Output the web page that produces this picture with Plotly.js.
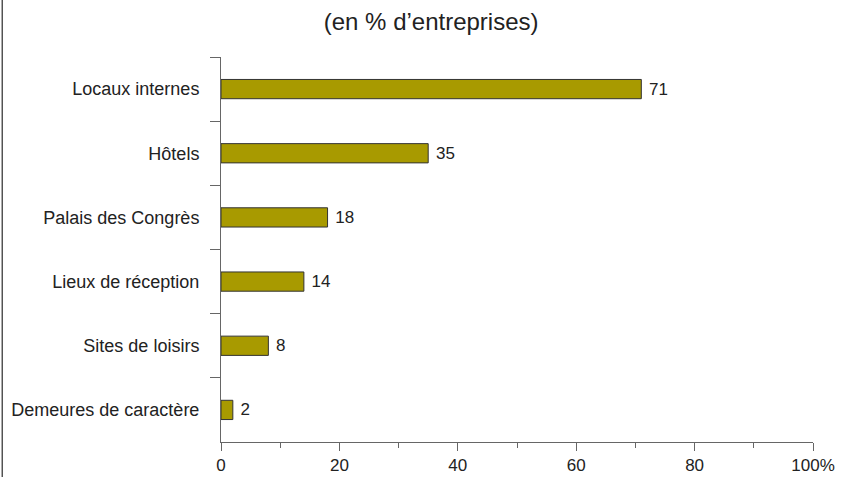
<!DOCTYPE html>
<html><head><meta charset="utf-8">
<script src="https://cdn.plot.ly/plotly-3.0.1.min.js"></script>
<style>html,body{margin:0;padding:0;background:#fff}#chart{width:848px;height:477px}</style>
</head><body><div id="chart"></div>
<script>
const categories = ["Locaux internes","Hôtels","Palais des Congrès","Lieux de réception","Sites de loisirs","Demeures de caractère"];
const values = [71, 35, 18, 14, 8, 2];
const xTickVals = [0, 20, 40, 60, 80, 100];
const xTickText = ["0","20","40","60","80","100%"];
const titleText = "(en % d’entreprises)";

const font = "Liberation Sans, Arial, sans-serif";
const trace = {
  type: "bar", orientation: "h",
  x: values, y: categories,
  width: 0.3,
  marker: {color: "#a89a00", line: {color: "#333333", width: 1}},
  text: values.map(v => " " + v), textposition: "outside", cliponaxis: false,
  textfont: {family: font, size: 17, color: "#222"},
  hoverinfo: "none"
};
const layout = {
  width: 848, height: 477,
  margin: {l: 220.5, r: 35, t: 57, b: 35},
  paper_bgcolor: "#fff", plot_bgcolor: "#fff",
  showlegend: false,
  font: {family: font, color: "#222"},
  title: {text: titleText, font: {family: font, size: 24, color: "#222"},
          x: 0.355, xref: "paper", xanchor: "center", y: 0.954, yref: "container", yanchor: "middle"},
  xaxis: {range: [0, 100], tickvals: xTickVals, ticktext: xTickText,
          ticks: "outside", ticklen: 8, tickcolor: "#666", tickwidth: 1,
          showline: true, linecolor: "#666", linewidth: 1, showgrid: false, zeroline: false,
          tickfont: {family: font, size: 17, color: "#222"},
          minor: {tickvals: [10, 30, 50, 70, 90], ticks: "outside", ticklen: 5, tickcolor: "#666", showgrid: false}},
  yaxis: {type: "category", autorange: false, range: [5.5, -0.5],
          ticks: "outside", ticklen: 10, tickcolor: "#666", tickwidth: 1, tickson: "boundaries",
          showline: true, linecolor: "#666", linewidth: 1, showgrid: false, zeroline: false,
          ticklabelstandoff: 17,
          tickfont: {family: font, size: 18, color: "#222"}},
  shapes: [{type: "line", xref: "paper", yref: "paper",
            x0: (1.5 - 220.5) / 592.5, x1: (1.5 - 220.5) / 592.5,
            y0: (442 - 0) / 385, y1: (442 - 477) / 385,
            line: {color: "#000", width: 1}}]
};
Plotly.newPlot("chart", [trace], layout, {staticPlot: true});
</script></body></html>
